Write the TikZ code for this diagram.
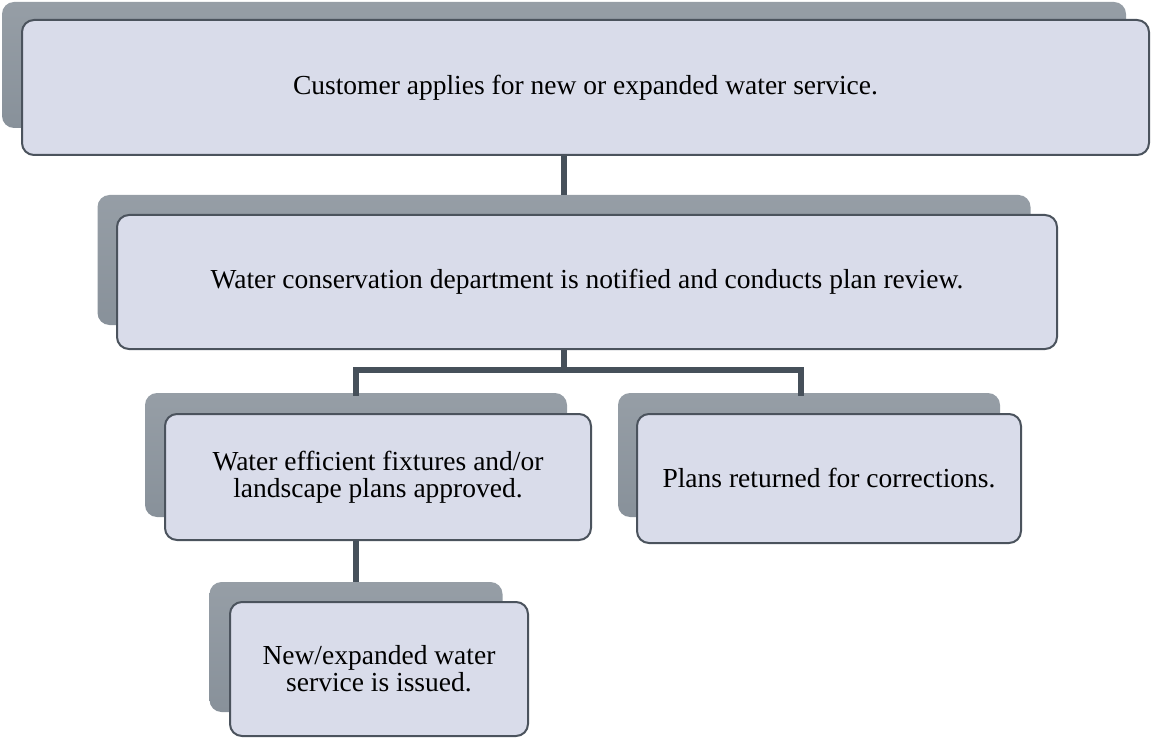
\documentclass[tikz,border=0pt]{standalone}
\usepackage{fontspec}
\setmainfont{Liberation Serif}
\usetikzlibrary{calc}
\definecolor{backlight}{HTML}{969EA6}
\definecolor{backdark}{HTML}{88919A}
\definecolor{frontfill}{HTML}{D9DCEA}
\definecolor{edgegray}{HTML}{4B535D}
\definecolor{linkgray}{HTML}{46505A}
\tikzset{
  backbox/.style={rounded corners=12pt, top color=backlight, bottom color=backdark,
    draw=none, inner sep=0pt},
  frontbox/.style={rounded corners=12pt, fill=frontfill, draw=edgegray, line width=2pt,
    inner sep=0pt, align=center, font=\fontsize{27.5}{27}\selectfont},
  link/.style={draw=linkgray, line width=6pt}
}
\begin{document}
\begin{tikzpicture}[x=1pt, y=-1pt]
\useasboundingbox (0,0) rectangle (1151,738);
% level 1
\node[backbox, minimum width=1124pt, minimum height=126pt] (b1) at (564,65) {};
\node[frontbox, minimum width=1127pt, minimum height=135pt] (t1) at (585.5,87.5)
  {Customer applies for new or expanded water service.};
% level 2
\node[backbox, minimum width=933pt, minimum height=130pt] (b2) at (564,260) {};
\node[frontbox, minimum width=940pt, minimum height=134pt] (t2) at (587,282)
  {Water conservation department is notified and conducts plan review.};
% level 3
\node[backbox, minimum width=422pt, minimum height=124pt] (b3a) at (356,455) {};
\node[frontbox, minimum width=426pt, minimum height=126pt] (t3a) at (378,477)
  {Water efficient fixtures and/or\\landscape plans approved.};
\node[backbox, minimum width=382pt, minimum height=124pt] (b3b) at (809,455) {};
\node[frontbox, minimum width=384pt, minimum height=129pt] (t3b) at (829,478.5)
  {Plans returned for corrections.};
% level 4
\node[backbox, minimum width=293pt, minimum height=130pt] (b4) at (356,647) {};
\node[frontbox, minimum width=298pt, minimum height=134pt] (t4) at (379,669)
  {New/expanded water\\service is issued.};
% connectors
\coordinate (j) at (0,370);
\coordinate (rb) at ($(b3b.north)+(-8,0)$);
\draw[link] (t1.south -| b1.south) -- (b2.north);
\draw[link] (t2.south -| b2.south) -- (b2.south |- j);
\draw[link, line cap=rect] (b3a.north) -- (b3a.north |- j) -- (rb |- j) -- (rb);
\draw[link] (t3a.south -| b3a.south) -- (b4.north);
\end{tikzpicture}
\end{document}
